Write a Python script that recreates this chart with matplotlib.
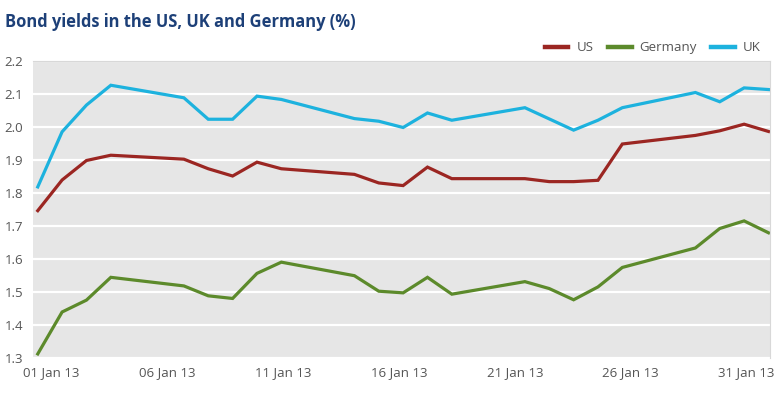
import numpy as np
import matplotlib
matplotlib.use("Agg")
from matplotlib import pyplot as plt

# trading days in January 2013 (day of month)
days = [1, 2, 3, 4, 7, 8, 9, 10, 11, 14, 15, 16, 17, 18, 21, 22, 23, 24, 25, 28, 29, 30, 31]

us = [1.746, 1.839, 1.898, 1.914, 1.902, 1.873, 1.851, 1.893, 1.873, 1.856, 1.830, 1.822,
      1.878, 1.843, 1.843, 1.834, 1.834, 1.838, 1.948, 1.974, 1.988, 2.008, 1.986]
germany = [1.312, 1.439, 1.475, 1.544, 1.518, 1.488, 1.480, 1.556, 1.590, 1.549, 1.502, 1.497,
           1.544, 1.493, 1.531, 1.510, 1.476, 1.515, 1.574, 1.633, 1.692, 1.715, 1.679]
uk = [1.818, 1.985, 2.066, 2.126, 2.088, 2.023, 2.023, 2.093, 2.083, 2.025, 2.017, 1.998,
      2.042, 2.020, 2.058, 2.024, 1.990, 2.020, 2.058, 2.104, 2.076, 2.118, 2.113]

xlabels = ["01 Jan 13", "06 Jan 13", "11 Jan 13", "16 Jan 13", "21 Jan 13", "26 Jan 13", "31 Jan 13"]
yticks = [1.3, 1.4, 1.5, 1.6, 1.7, 1.8, 1.9, 2.0, 2.1, 2.2]

plt.rcParams['font.family'] = ['Open Sans', 'DejaVu Sans']

fig = plt.figure(figsize=(7.83, 3.95), dpi=100)
ax = fig.add_axes([0.042, 0.094, 0.941, 0.752])
ax.set_facecolor("#e6e6e6")

ax.plot(days, us, color="#9b2622", lw=2.3, label="US", solid_joinstyle="miter")
ax.plot(days, germany, color="#5c8a2b", lw=2.3, label="Germany", solid_joinstyle="miter")
ax.plot(days, uk, color="#1db2de", lw=2.3, label="UK", solid_joinstyle="miter")

ax.set_ylim(1.3, 2.2)
ax.set_xlim(0.8, 31.05)
ax.set_yticks(yticks)
ax.set_yticklabels(["%.1f" % v for v in yticks])
ax.set_xticks(np.linspace(1.57, 30.09, len(xlabels)))
ax.set_xticklabels(xlabels)
ax.grid(axis="y", color="white", lw=1.6)
ax.set_axisbelow(True)
ax.tick_params(length=0, labelsize=9.5, colors="#555555", pad=6)
ax.tick_params(axis="y", pad=7)
for s in ["left", "bottom"]:
    ax.spines[s].set_visible(False)
for s in ["top", "right"]:
    ax.spines[s].set_color("#d8d8d8")
    ax.spines[s].set_linewidth(0.8)

fig.text(0.006, 0.945, "Bond yields in the US, UK and Germany (%)", fontsize=11.9,
         fontweight="bold", color="#1d4078", va="center", ha="left")

leg = ax.legend(loc="lower right", bbox_to_anchor=(0.997, 1.0), ncol=3, frameon=False,
                fontsize=9.5, handlelength=1.8, columnspacing=1.1, handletextpad=0.6,
                borderaxespad=0.1)
for t in leg.get_texts():
    t.set_color("#555555")
for h in leg.get_lines():
    h.set_linewidth(3.2)

fig.savefig("out.png", dpi=100)
